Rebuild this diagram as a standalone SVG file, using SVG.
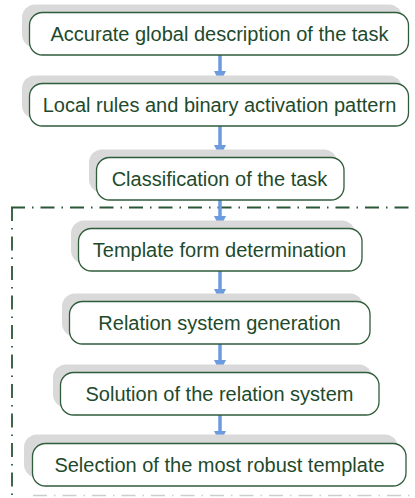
<svg xmlns="http://www.w3.org/2000/svg" width="415" height="498" viewBox="0 0 415 498">
<defs>
<style>
.sh{fill:#d9d9d9;}
.bx{fill:#ffffff;stroke:#2f5c3a;stroke-width:1.3;}
.t{font-family:"Liberation Sans",Arial,sans-serif;font-size:20px;fill:#1e4a2c;text-anchor:middle;}
.ar{stroke:#6d9be0;stroke-width:3.5;fill:none;}
.frame{stroke:#2a5736;stroke-width:1.8;fill:none;stroke-dasharray:14 7 1.5 7;}
.frameb{stroke:#c9d0c9;stroke-width:1.6;fill:none;stroke-dasharray:14 7 1.5 7;}
</style>
<marker id="ah" viewBox="0 0 12 12" refX="12" refY="6" markerWidth="12" markerHeight="12" markerUnits="userSpaceOnUse" orient="auto">
<path d="M0,0 L12,6 L0,12 Z" fill="#6d9be0"/>
</marker>
</defs>
<rect width="415" height="498" fill="#ffffff"/>
<g id="frame">
<path class="frame" d="M11,207.5 H415"/>
<path class="frame" d="M12,207 V496"/>
<path class="frameb" d="M33,495.5 H415"/>
</g>
<g id="connectors">
<line class="ar" x1="220" y1="55" x2="220" y2="83" marker-end="url(#ah)"/>
<line class="ar" x1="220" y1="126" x2="220" y2="157" marker-end="url(#ah)"/>
<line class="ar" x1="220" y1="200" x2="220" y2="228" marker-end="url(#ah)"/>
<line class="ar" x1="220" y1="271" x2="220" y2="301" marker-end="url(#ah)"/>
<line class="ar" x1="220" y1="344" x2="220" y2="372" marker-end="url(#ah)"/>
<line class="ar" x1="220" y1="415" x2="220" y2="443" marker-end="url(#ah)"/>
</g>
<g id="n1">
<rect class="sh" x="22" y="4.5" width="380" height="43" rx="13"/>
<rect class="bx" x="29.5" y="12.5" width="379" height="42.5" rx="13"/>
<text class="t" x="219.5" y="40.5">Accurate global description of the task</text>
</g>
<g id="n2">
<rect class="sh" x="22" y="75.5" width="380" height="43" rx="13"/>
<rect class="bx" x="29.5" y="83.5" width="379" height="42.5" rx="13"/>
<text class="t" x="219.5" y="111.5">Local rules and binary activation pattern</text>
</g>
<g id="n3">
<rect class="sh" x="89" y="149.5" width="248" height="43" rx="13"/>
<rect class="bx" x="96.5" y="157.5" width="247.5" height="42.5" rx="13"/>
<text class="t" x="219.5" y="185.5">Classification of the task</text>
</g>
<g id="n4">
<rect class="sh" x="71" y="220.5" width="284" height="43" rx="13"/>
<rect class="bx" x="78.5" y="228.5" width="283.5" height="42.5" rx="13"/>
<text class="t" x="219.5" y="256.5">Template form determination</text>
</g>
<g id="n5">
<rect class="sh" x="62" y="293.5" width="301" height="43" rx="13"/>
<rect class="bx" x="69.5" y="301.5" width="300.5" height="42.5" rx="13"/>
<text class="t" x="219.5" y="329.5">Relation system generation</text>
</g>
<g id="n6">
<rect class="sh" x="53" y="364.5" width="319" height="43" rx="13"/>
<rect class="bx" x="60.5" y="372.5" width="318.5" height="42.5" rx="13"/>
<text class="t" x="219.5" y="400.5">Solution of the relation system</text>
</g>
<g id="n7">
<rect class="sh" x="24" y="434.5" width="374" height="43" rx="13"/>
<rect class="bx" x="32.5" y="443.5" width="373.5" height="42.5" rx="13"/>
<text class="t" x="219.5" y="471.5">Selection of the most robust template</text>
</g>
</svg>
